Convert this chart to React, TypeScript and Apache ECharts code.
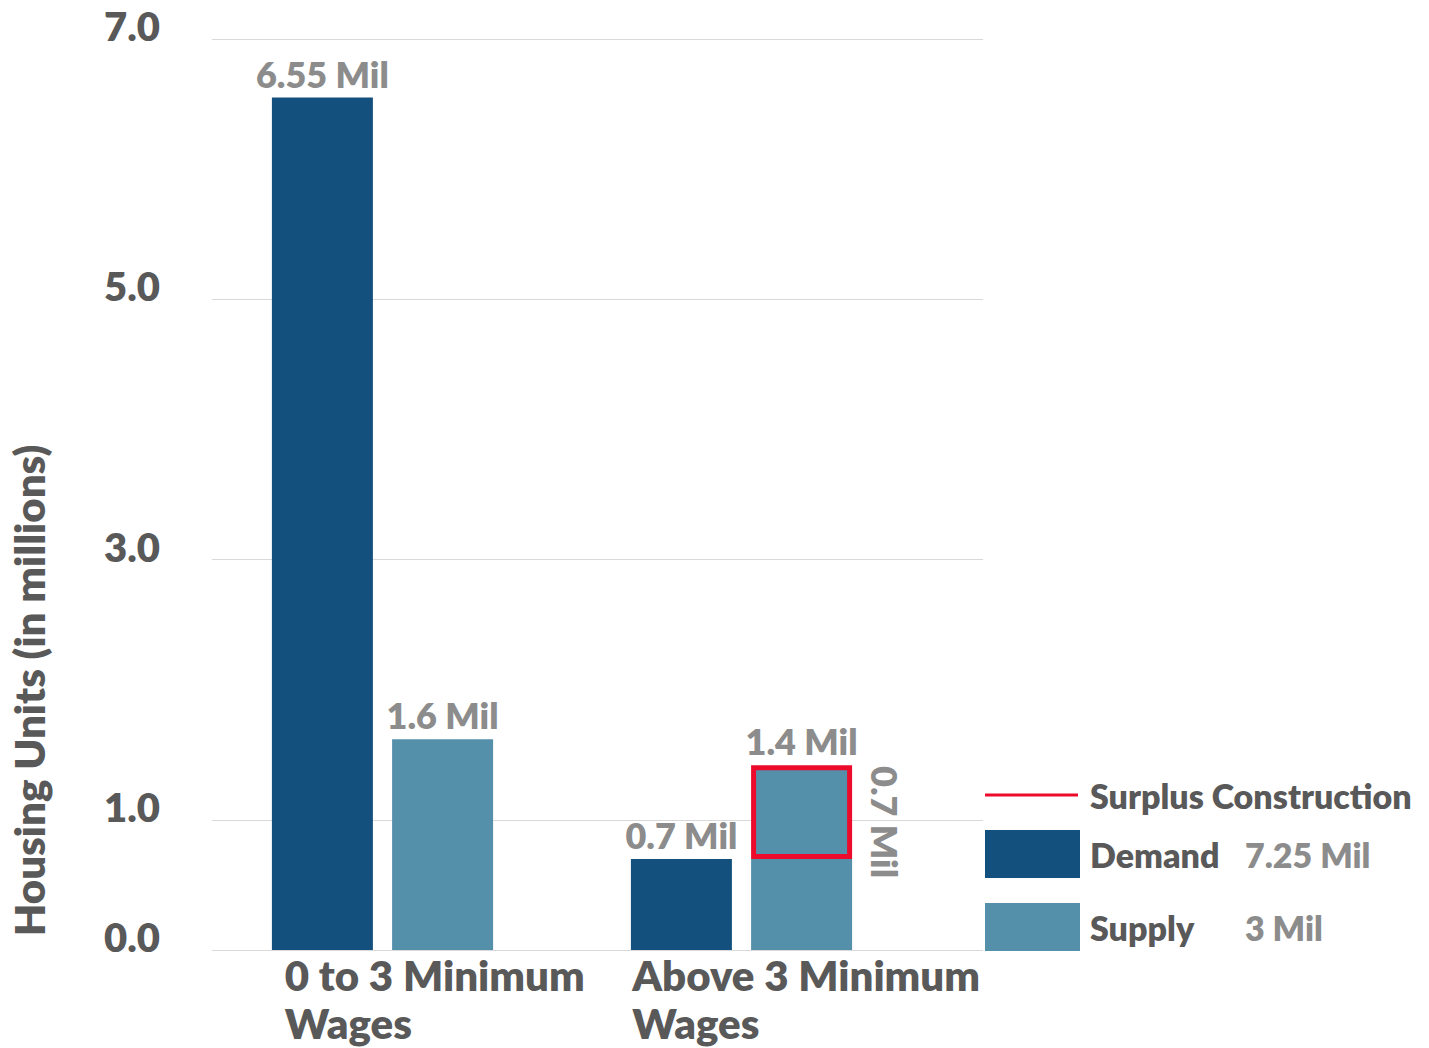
import React, { useEffect, useRef } from 'react';
import * as echarts from 'echarts';

const categories = ['0 to 3 Minimum Wages', 'Above 3 Minimum Wages'];
const categoryLines = [['0 to 3 Minimum', 'Wages'], ['Above 3 Minimum', 'Wages']];
const demand = [6.55, 0.7];
const supplyBase = [1.62, 0.7];
const surplus: (number | string)[] = ['-', 0.72];
const supplyTopHelper = [0, 0];
const demandLabels = ['6.55 Mil', '0.7 Mil'];
const supplyTopLabels = ['1.6 Mil', '1.4 Mil'];
const surplusSideLabels = ['', '0.7 Mil'];
const yTicks = [0, 1, 3, 5, 7];
const legendNames = ['Demand', 'Supply'];
const legendTotals = ['7.25 Mil', '3 Mil'];

const FONT = 'Lato, "Open Sans", sans-serif';
const W = 800;
const DARK = '#595959';
const GRAY = '#8c8c8c';
const C_DEMAND = '#14507d';
const C_SUPPLY = '#5590ab';
const C_RED = '#ec0b2a';

export default function App() {
  const ref = useRef<HTMLDivElement>(null);
  useEffect(() => {
    document.body.style.margin = '0';
    const chart = echarts.init(ref.current!, null, { renderer: 'svg' });
    const gridBase = { top: 39, bottom: 98, outerBoundsMode: 'none', containLabel: false };
    const option: any = {
      animation: false,
      textStyle: { fontFamily: FONT },
      grid: [
        { ...gridBase, left: 212, right: 446 },
        { ...gridBase, left: 203, right: 508 },
        { ...gridBase, left: 111, right: 623 },
      ],
      xAxis: [
        { gridIndex: 0, type: 'category', data: categories, show: false },
        {
          gridIndex: 1, type: 'category', data: categories,
          axisLine: { show: false }, axisTick: { show: false }, axisLabel: { show: false },
        },
        {
          gridIndex: 2, type: 'category', data: categories,
          axisLine: { show: false }, axisTick: { show: false },
          axisLabel: {
            align: 'left', margin: 1, interval: 0,
            fontSize: 42, fontWeight: W, color: DARK, fontFamily: FONT, lineHeight: 48,
            formatter: (_v: string, i: number) => categoryLines[i].join('\n'),
          },
        },
      ],
      yAxis: [
        {
          gridIndex: 0, type: 'value', min: 0, max: 7,
          axisLine: { show: false },
          axisTick: { show: false, customValues: yTicks },
          axisLabel: {
            customValues: yTicks, margin: 52,
            formatter: (v: number) => `{a|${v.toFixed(1)}}`,
            rich: {
              a: { fontSize: 40, fontWeight: W, color: DARK, fontFamily: FONT, padding: [0, 0, 26, 0] },
            },
          },
          splitLine: { show: true, lineStyle: { color: '#d9d9d9', width: 1 } },
          name: 'Housing Units (in millions)',
          nameLocation: 'middle', nameGap: 162,
          nameTextStyle: { fontSize: 42, fontWeight: W, color: DARK, fontFamily: FONT, padding: [0, 392, 0, 0] },
        },
        { gridIndex: 1, type: 'value', min: 0, max: 7, show: false, splitLine: { show: false } },
        { gridIndex: 2, type: 'value', min: 0, max: 7, show: false, splitLine: { show: false } },
      ],
      legend: [
        {
          orient: 'vertical', left: 985, top: 775, padding: 0,
          itemWidth: 93, itemHeight: 3, selectedMode: false,
          data: [{ name: 'Surplus Construction', icon: 'rect', itemStyle: { color: C_RED, borderWidth: 0 } }],
          textStyle: { fontSize: 34, fontWeight: W, color: DARK, fontFamily: FONT, lineHeight: 40, padding: [0, 0, 0, 7] },
        },
        {
          orient: 'vertical', left: 985, top: 830, padding: 0, itemGap: 25,
          itemWidth: 95, itemHeight: 48, selectedMode: false,
          data: legendNames.map((n) => ({ name: n, icon: 'rect' })),
          formatter: (name: string) => `{n|${name}}{v|${legendTotals[legendNames.indexOf(name)]}}`,
          textStyle: {
            padding: [0, 0, 0, 5],
            rich: {
              n: { width: 155, fontSize: 34, fontWeight: W, color: DARK, fontFamily: FONT, lineHeight: 40 },
              v: { fontSize: 34, fontWeight: W, color: GRAY, fontFamily: FONT, lineHeight: 40 },
            },
          },
        },
      ],
      series: [
        {
          name: 'Demand', type: 'bar', xAxisIndex: 1, yAxisIndex: 1,
          data: demand, barWidth: 101, barGap: '19%',
          itemStyle: { color: C_DEMAND },
          label: {
            show: true, position: 'top', distance: 6, fontSize: 36, fontWeight: W, color: GRAY, fontFamily: FONT,
            formatter: (p: any) => demandLabels[p.dataIndex],
          },
        },
        {
          name: 'Supply', type: 'bar', xAxisIndex: 1, yAxisIndex: 1, stack: 'supply',
          data: supplyBase, barWidth: 101, barGap: '19%',
          itemStyle: { color: C_SUPPLY },
        },
        {
          name: 'Surplus Construction', type: 'bar', xAxisIndex: 1, yAxisIndex: 1, stack: 'supply',
          data: surplus, barWidth: 101, barGap: '19%',
          itemStyle: { color: C_SUPPLY, borderColor: C_RED, borderWidth: 5 },
          label: {
            show: true, position: 'right', rotate: -90, distance: 33, align: 'center', verticalAlign: 'middle',
            offset: [10, 0],
            fontSize: 36, fontWeight: W, color: GRAY, fontFamily: FONT,
            formatter: (p: any) => surplusSideLabels[p.dataIndex],
          },
        },
        {
          name: 'Supply Total', type: 'bar', xAxisIndex: 1, yAxisIndex: 1, stack: 'supply',
          data: supplyTopHelper, barWidth: 101, barGap: '19%',
          itemStyle: { color: 'transparent' },
          label: {
            show: true, position: 'top', distance: 6, fontSize: 36, fontWeight: W, color: GRAY, fontFamily: FONT,
            formatter: (p: any) => supplyTopLabels[p.dataIndex],
          },
        },
      ],
    };
    chart.setOption(option);
    return () => chart.dispose();
  }, []);
  return <div ref={ref} style={{ width: 1429, height: 1048 }} />;
}
